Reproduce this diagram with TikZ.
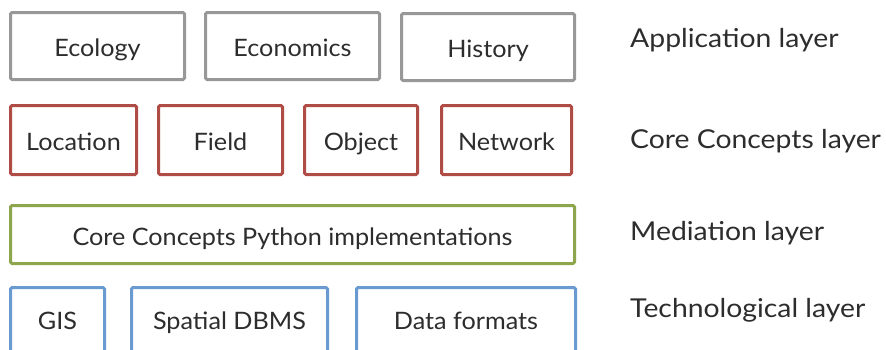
\documentclass[tikz,border=0pt]{standalone}
\usepackage{fontspec}
\setmainfont{Lato}
\newfontfamily\boxfont[FakeStretch=1.05]{Lato}
\newfontfamily\labelfont[FakeStretch=1.09]{Lato}
\definecolor{appgray}{RGB}{152,152,152}
\definecolor{corered}{RGB}{176,76,70}
\definecolor{medgreen}{RGB}{141,166,78}
\definecolor{techblue}{RGB}{106,155,208}
\definecolor{txt}{RGB}{45,45,45}
\tikzset{
  layerbox/.style={draw, line width=3pt, rounded corners=1.5pt, inner sep=0pt,
    text height=21pt, text depth=0pt, text=txt,
    font=\boxfont\fontsize{24}{28}\selectfont},
  appbox/.style={layerbox, draw=appgray, minimum height=67pt},
  corebox/.style={layerbox, draw=corered, minimum height=69pt},
  medbox/.style={layerbox, draw=medgreen, minimum height=58pt},
  techbox/.style={layerbox, draw=techblue, minimum height=70pt, text height=13pt},
  layerlabel/.style={anchor=base west, inner sep=0pt, text=txt,
    font=\labelfont\fontsize{26}{30}\selectfont}
}
\begin{document}
\begin{tikzpicture}[x=1pt,y=-1pt]
\clip (0,0) rectangle (886,349);
\fill[white] (0,0) rectangle (886,349);
% Application layer
\node[appbox, minimum width=174pt] (eco) at (97.5,46) {Ecology};
\node[appbox, minimum width=174pt] (econ) at (292.5,46) {Economics};
\node[appbox, minimum width=173pt] (hist) at (488,47) {History};
% Core concepts layer
\node[corebox, minimum width=126pt] (loc) at (73.5,140) {Location};
\node[corebox, minimum width=124pt] (field) at (220.5,140) {Field};
\node[corebox, minimum width=113pt] (obj) at (361,140) {Object};
\node[corebox, minimum width=130pt] (net) at (506.5,140) {Network};
% Mediation layer
\node[medbox, minimum width=564pt] (py) at (292.5,234.5) {Core Concepts Python implementations};
% Technological layer
\node[techbox, minimum width=94pt] (gis) at (57.5,322.5) {GIS};
\node[techbox, minimum width=196pt] (dbms) at (229.5,322.5) {Spatial DBMS};
\node[techbox, minimum width=219pt] (fmt) at (466,322.5) {Data formats};
% Layer labels
\node[layerlabel] (lapp) at (630,47) {Application layer};
\node[layerlabel] (lcore) at (630,148) {Core Concepts layer};
\node[layerlabel] (lmed) at (630,240) {Mediation layer};
\node[layerlabel] (ltech) at (630,317) {Technological layer};
\end{tikzpicture}
\end{document}
